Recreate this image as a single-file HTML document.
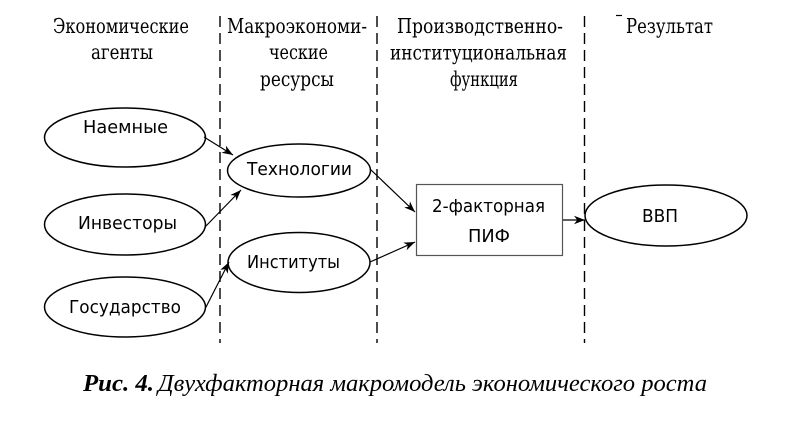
<!DOCTYPE html>
<html>
<head>
<meta charset="utf-8">
<style>
  html, body { margin:0; padding:0; background:#fff; }
  body { width:802px; height:422px; overflow:hidden; }
  svg { display:block; }
  .hd { font-family: "DejaVu Serif", "Liberation Serif", serif; font-size:20.5px; fill:#000; }
  .lb { font-family: "DejaVu Sans", "Liberation Sans", sans-serif; font-size:17.5px; fill:#000; }
  .cap { font-family: "Liberation Serif", serif; font-size:24px; font-style:italic; fill:#000; }
</style>
</head>
<body>
<svg width="802" height="422" viewBox="0 0 802 422" xmlns="http://www.w3.org/2000/svg">
  <defs>
    <marker id="ar" markerUnits="userSpaceOnUse" markerWidth="12" markerHeight="10" refX="11" refY="5" orient="auto">
      <path d="M0,0.8 L11,5 L0,9.2 L3.2,5 Z" fill="#000"/>
    </marker>
  </defs>

  <!-- dashed dividers -->
  <g stroke="#000" stroke-width="1.4" stroke-dasharray="11,6" fill="none">
    <line x1="220" y1="16" x2="220" y2="343"/>
    <line x1="377" y1="16" x2="377" y2="343"/>
    <line x1="584.5" y1="16" x2="584.5" y2="343"/>
  </g>

  <!-- headers -->
  <text class="hd" x="121" y="33" text-anchor="middle" textLength="136" lengthAdjust="spacingAndGlyphs">Экономические</text>
  <text class="hd" x="122" y="59" text-anchor="middle" textLength="62" lengthAdjust="spacingAndGlyphs">агенты</text>

  <text class="hd" x="297" y="33" text-anchor="middle" textLength="140" lengthAdjust="spacingAndGlyphs">Макроэкономи-</text>
  <text class="hd" x="298.5" y="59" text-anchor="middle" textLength="59" lengthAdjust="spacingAndGlyphs">ческие</text>
  <text class="hd" x="297" y="86" text-anchor="middle" textLength="74" lengthAdjust="spacingAndGlyphs">ресурсы</text>

  <text class="hd" x="480" y="33" text-anchor="middle" textLength="166" lengthAdjust="spacingAndGlyphs">Производственно-</text>
  <text class="hd" x="478.5" y="59.5" text-anchor="middle" textLength="177" lengthAdjust="spacingAndGlyphs">институциональная</text>
  <text class="hd" x="484" y="86" text-anchor="middle" textLength="68" lengthAdjust="spacingAndGlyphs">функция</text>

  <text class="hd" x="669.5" y="33" text-anchor="middle" textLength="87" lengthAdjust="spacingAndGlyphs">Результат</text>
  <line x1="616" y1="15.5" x2="622" y2="15.5" stroke="#000" stroke-width="1.2"/>

  <!-- ellipses -->
  <g stroke="#000" stroke-width="1.5" fill="#fff">
    <ellipse cx="125" cy="137.5" rx="80.5" ry="29.5"/>
    <ellipse cx="125" cy="224.5" rx="80.5" ry="30.5"/>
    <ellipse cx="125" cy="307" rx="80.5" ry="30"/>
    <ellipse cx="299" cy="170.5" rx="71.5" ry="26.5"/>
    <ellipse cx="299" cy="262.5" rx="71" ry="30"/>
    <ellipse cx="666" cy="215.5" rx="81" ry="30.5"/>
  </g>

  <!-- box -->
  <rect x="416.5" y="184.5" width="146" height="71" fill="#fff" stroke="#555" stroke-width="1.2"/>

  <!-- arrows -->
  <g stroke="#000" stroke-width="1.2" fill="none" marker-end="url(#ar)">
    <line x1="204" y1="137" x2="233" y2="155"/>
    <line x1="205" y1="227" x2="241" y2="190"/>
    <line x1="205" y1="309" x2="229" y2="262"/>
    <line x1="370" y1="169" x2="415" y2="212"/>
    <line x1="370" y1="262" x2="415" y2="242"/>
    <line x1="563" y1="220" x2="585" y2="220"/>
  </g>

  <!-- labels -->
  <text class="lb" x="125.5" y="133" text-anchor="middle" textLength="85" lengthAdjust="spacingAndGlyphs">Наемные</text>
  <text class="lb" x="127.5" y="229" text-anchor="middle" textLength="99" lengthAdjust="spacingAndGlyphs">Инвесторы</text>
  <text class="lb" x="125" y="313" text-anchor="middle" textLength="112" lengthAdjust="spacingAndGlyphs">Государство</text>
  <text class="lb" x="299.5" y="175" text-anchor="middle" textLength="105" lengthAdjust="spacingAndGlyphs">Технологии</text>
  <text class="lb" x="293.5" y="268" text-anchor="middle" textLength="93" lengthAdjust="spacingAndGlyphs">Институты</text>
  <text class="lb" x="488.5" y="212" text-anchor="middle" textLength="113" lengthAdjust="spacingAndGlyphs">2-факторная</text>
  <text class="lb" x="489" y="242" text-anchor="middle" textLength="42" lengthAdjust="spacingAndGlyphs">ПИФ</text>
  <text class="lb" x="660" y="222" text-anchor="middle" textLength="36" lengthAdjust="spacingAndGlyphs">ВВП</text>

  <!-- caption -->
  <text class="cap" x="83" y="391" font-weight="bold" textLength="71" lengthAdjust="spacingAndGlyphs">Рис. 4.</text>
  <text class="cap" x="158" y="391" textLength="549" lengthAdjust="spacingAndGlyphs">Двухфакторная макромодель экономического роста</text>
</svg>
</body>
</html>
